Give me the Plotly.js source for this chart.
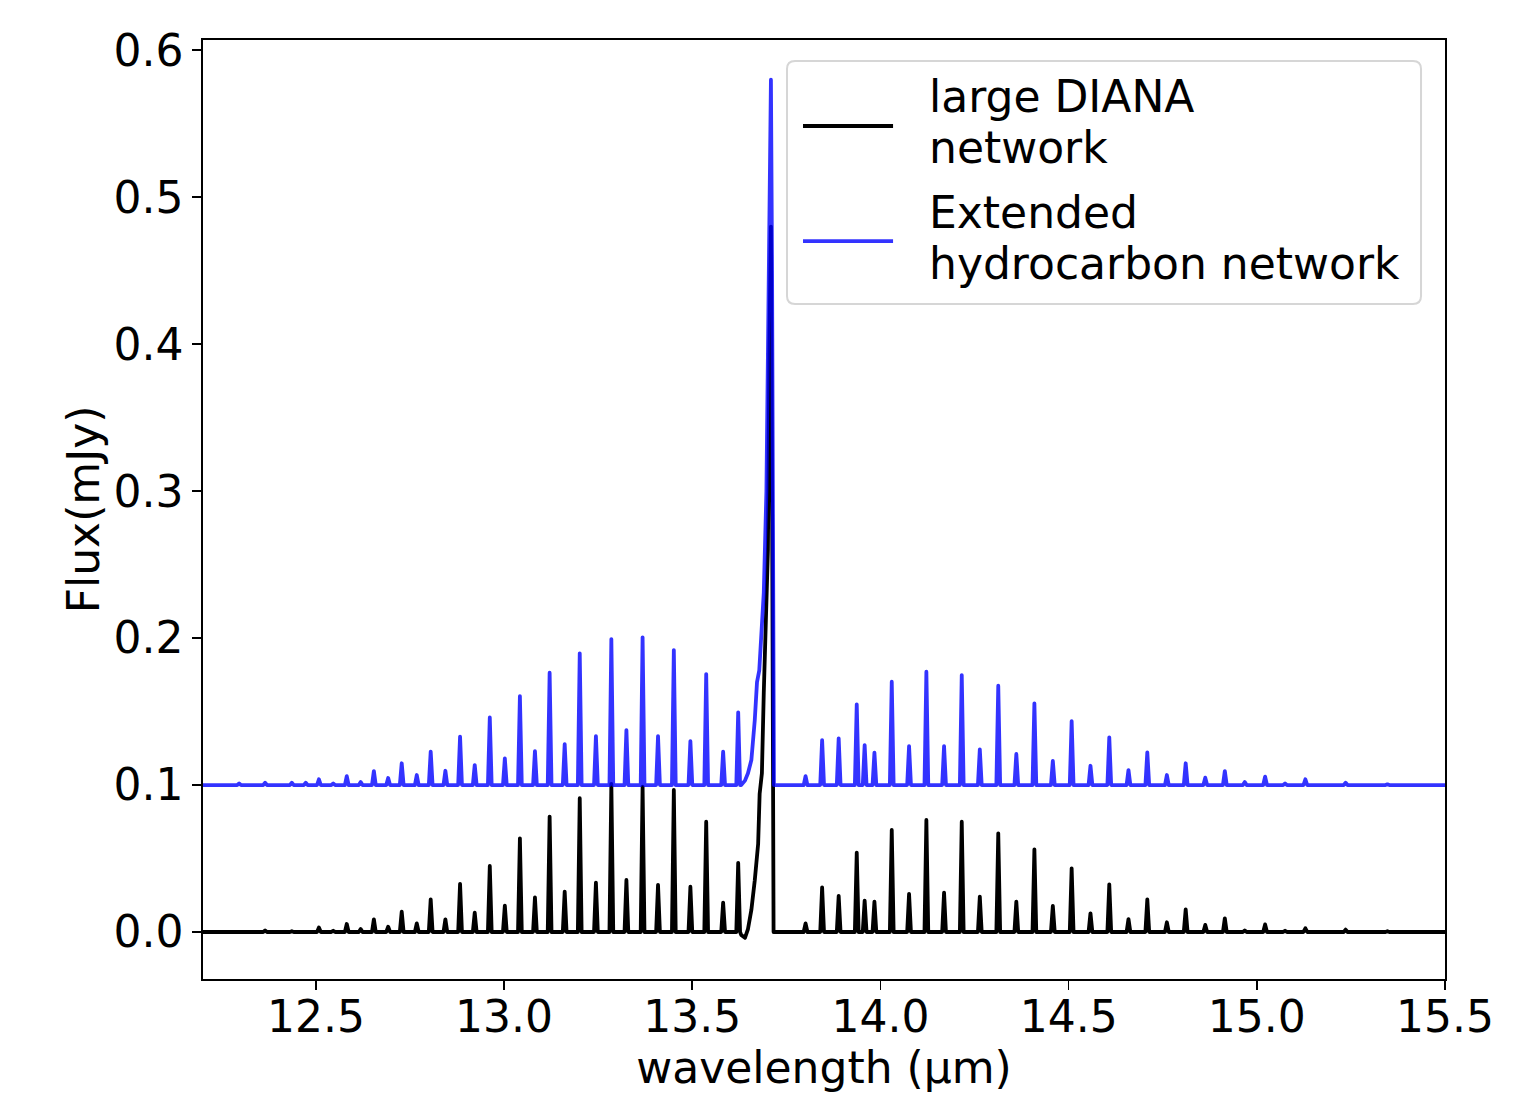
<!DOCTYPE html>
<html>
<head>
<meta charset="utf-8">
<script src="https://cdn.plot.ly/plotly-3.0.1.min.js"></script>
<style>
  html, body { margin: 0; padding: 0; background: #ffffff; }
  #chart { width: 1520px; height: 1097px; }
  path.js-line { stroke-linejoin: round !important; stroke-linecap: round; }
</style>
</head>
<body>
<div id="chart"></div>
<script>
// ---------------- DATA ----------------
// Wavelengths (µm) of the individual emission lines
const lineWavelengths = [
  12.296, 12.365, 12.436, 12.473, 12.508, 12.546, 12.582, 12.619, 12.654, 12.692,
  12.728, 12.768, 12.805, 12.844, 12.883, 12.922, 12.962, 13.002, 13.042, 13.082,
  13.121, 13.161, 13.201, 13.244, 13.285, 13.325, 13.368, 13.409, 13.451, 13.495,
  13.537, 13.582, 13.622,
  13.801, 13.845, 13.889, 13.937, 13.958, 13.984, 14.030, 14.076, 14.122, 14.169,
  14.216, 14.264, 14.313, 14.361, 14.409, 14.458, 14.508, 14.558, 14.608, 14.659,
  14.709, 14.761, 14.811, 14.863, 14.915, 14.968, 15.022, 15.075, 15.129, 15.182,
  15.236, 15.347
];
// Peak flux (mJy) of each line, "large DIANA network"
const dianaPeakFlux = [
  0.0005, 0.0010, 0.0005, 0.0005, 0.0030, 0.0008, 0.0054, 0.0020, 0.0086, 0.0036,
  0.0138, 0.0059, 0.0222, 0.0086, 0.0327, 0.0132, 0.0449, 0.0179, 0.0637, 0.0236,
  0.0785, 0.0274, 0.0910, 0.0336, 0.1007, 0.0354, 0.0989, 0.0320, 0.0966, 0.0308,
  0.0750, 0.0200, 0.0470,
  0.0059, 0.0304, 0.0245, 0.0540, 0.0213, 0.0206, 0.0694, 0.0259, 0.0762, 0.0268,
  0.0750, 0.0240, 0.0671, 0.0206, 0.0562, 0.0177, 0.0433, 0.0127, 0.0324, 0.0088,
  0.0222, 0.0066, 0.0154, 0.0048, 0.0093, 0.0010, 0.0052, 0.0008, 0.0025, 0.0005,
  0.0016, 0.0005
];
// Peak flux (mJy) of each line, "Extended hydrocarbon network" (plotted with +0.1 offset)
const extendedPeakFlux = [
  0.1010, 0.1015, 0.1015, 0.1015, 0.1039, 0.1010, 0.1060, 0.1020, 0.1095, 0.1048,
  0.1148, 0.1068, 0.1227, 0.1097, 0.1329, 0.1136, 0.1460, 0.1181, 0.1605, 0.1231,
  0.1764, 0.1279, 0.1896, 0.1333, 0.1993, 0.1374, 0.2005, 0.1333, 0.1918, 0.1299,
  0.1755, 0.1227, 0.1495,
  0.1060, 0.1306, 0.1317, 0.1549, 0.1272, 0.1220, 0.1703, 0.1265, 0.1771, 0.1265,
  0.1748, 0.1243, 0.1676, 0.1211, 0.1556, 0.1165, 0.1435, 0.1131, 0.1324, 0.1102,
  0.1222, 0.1068, 0.1148, 0.1050, 0.1095, 0.1020, 0.1057, 0.1010, 0.1039, 0.1005,
  0.1016, 0.1005
];
// Continuum levels of the two curves
const dianaBaseline = 0.0;
const extendedBaseline = 0.1;

// Central Q-branch band (13.63 - 13.72 µm), sampled points
const dianaBandWl   = [13.630, 13.640, 13.648, 13.657, 13.666, 13.675, 13.679, 13.685, 13.690, 13.697, 13.701, 13.705, 13.709, 13.712, 13.716];
const dianaBandFlux = [-0.002, -0.004, 0.002, 0.015, 0.035, 0.060, 0.094, 0.108, 0.163, 0.231, 0.260, 0.400, 0.480, 0.300, 0.000];
const extendedBandWl   = [13.630, 13.640, 13.648, 13.657, 13.666, 13.672, 13.678, 13.685, 13.690, 13.697, 13.701, 13.706, 13.709, 13.712, 13.717];
const extendedBandFlux = [0.100, 0.103, 0.108, 0.117, 0.144, 0.170, 0.178, 0.210, 0.231, 0.300, 0.400, 0.520, 0.580, 0.450, 0.100];

// Axis settings / labels
const xRange = [12.2, 15.5];
const yRange = [-0.032, 0.607];
const xTitle = 'wavelength (µm)';
const yTitle = 'Flux(mJy)';
const seriesLabelLines = [['large DIANA', 'network'], ['Extended', 'hydrocarbon network']];
const seriesNames = seriesLabelLines.map(l => l.join(' '));
const seriesColors = ['#000000', 'rgba(0,0,255,0.8)'];

// ---------------- build line traces from the arrays ----------------
const HALF = 0.005; // half width of an unresolved line on the wavelength grid
function buildSpectrum(centers, peaks, base, bandX, bandY) {
  const pts = [[xRange[0], base], [xRange[1], base]];
  centers.forEach((c, i) => {
    pts.push([c - HALF, base], [c, peaks[i]], [c + HALF, base]);
  });
  bandX.forEach((x, i) => pts.push([x, bandY[i]]));
  pts.sort((a, b) => a[0] - b[0]);
  return { x: pts.map(p => p[0]), y: pts.map(p => p[1]) };
}
const diana = buildSpectrum(lineWavelengths, dianaPeakFlux, dianaBaseline, dianaBandWl, dianaBandFlux);
const ext = buildSpectrum(lineWavelengths, extendedPeakFlux, extendedBaseline, extendedBandWl, extendedBandFlux);

const FONT = 'DejaVu Sans, Verdana, sans-serif';
const FS = 44;
const LW = 3.8;
const traces = [
  { x: diana.x, y: diana.y, type: 'scatter', mode: 'lines', name: seriesNames[0],
    line: { color: seriesColors[0], width: LW }, hoverinfo: 'x+y' },
  { x: ext.x, y: ext.y, type: 'scatter', mode: 'lines', name: seriesNames[1],
    line: { color: seriesColors[1], width: LW }, hoverinfo: 'x+y' }
];

// manual matplotlib-style legend (paper coordinates), rounded frame
const lx0 = 0.4702, lx1 = 0.9807, ly0 = 0.7188, ly1 = 0.9776, rx = 0.0065, ry = 0.0085;
const framePath = `M ${lx0 + rx} ${ly1} L ${lx1 - rx} ${ly1} Q ${lx1} ${ly1} ${lx1} ${ly1 - ry} ` +
  `L ${lx1} ${ly0 + ry} Q ${lx1} ${ly0} ${lx1 - rx} ${ly0} L ${lx0 + rx} ${ly0} Q ${lx0} ${ly0} ${lx0} ${ly0 + ry} ` +
  `L ${lx0} ${ly1 - ry} Q ${lx0} ${ly1} ${lx0 + rx} ${ly1} Z`;
const legendShapes = [
  { type: 'path', xref: 'paper', yref: 'paper', path: framePath,
    line: { color: '#d6d6d6', width: 2 }, fillcolor: 'rgba(255,255,255,0.8)', layer: 'above' },
  { type: 'line', xref: 'paper', yref: 'paper', x0: 0.4831, x1: 0.5556, y0: 0.9084, y1: 0.9084,
    line: { color: seriesColors[0], width: LW }, layer: 'above' },
  { type: 'line', xref: 'paper', yref: 'paper', x0: 0.4831, x1: 0.5556, y0: 0.7859, y1: 0.7859,
    line: { color: seriesColors[1], width: LW }, layer: 'above' }
];
const legendLineY = [[0.9393, 0.8860], [0.8168, 0.7625]];
const legendAnnotations = [];
seriesLabelLines.forEach((lines, s) => {
  lines.forEach((t, k) => {
    legendAnnotations.push({ xref: 'paper', yref: 'paper', x: 0.5830, y: legendLineY[s][k],
      xanchor: 'left', yanchor: 'middle', text: t, showarrow: false, align: 'left',
      font: { family: FONT, size: FS, color: '#000' } });
  });
});

const axisCommon = {
  showgrid: false, zeroline: false, showline: true, mirror: true,
  linecolor: '#000', linewidth: 1.6,
  ticks: 'outside', ticklen: 9, tickwidth: 1.6, tickcolor: '#000',
  tickfont: { family: FONT, size: FS, color: '#000' },
  tickformat: '.1f'
};

const layout = {
  width: 1520, height: 1097,
  paper_bgcolor: '#ffffff', plot_bgcolor: '#ffffff',
  margin: { l: 203, r: 75, t: 40, b: 118, pad: 0 },
  showlegend: false,
  font: { family: FONT, color: '#000' },
  xaxis: Object.assign({}, axisCommon, {
    range: xRange, tick0: 12.5, dtick: 0.5, ticklabelstandoff: -10,
    title: { text: xTitle, font: { family: FONT, size: FS, color: '#000' }, standoff: 8 }
  }),
  yaxis: Object.assign({}, axisCommon, {
    range: yRange, tick0: 0, dtick: 0.1,
    title: { text: yTitle, font: { family: FONT, size: FS, color: '#000' }, standoff: 0 }
  }),
  shapes: legendShapes,
  annotations: legendAnnotations
};

Plotly.newPlot('chart', traces, layout, { staticPlot: true, displayModeBar: false });
</script>
</body>
</html>
